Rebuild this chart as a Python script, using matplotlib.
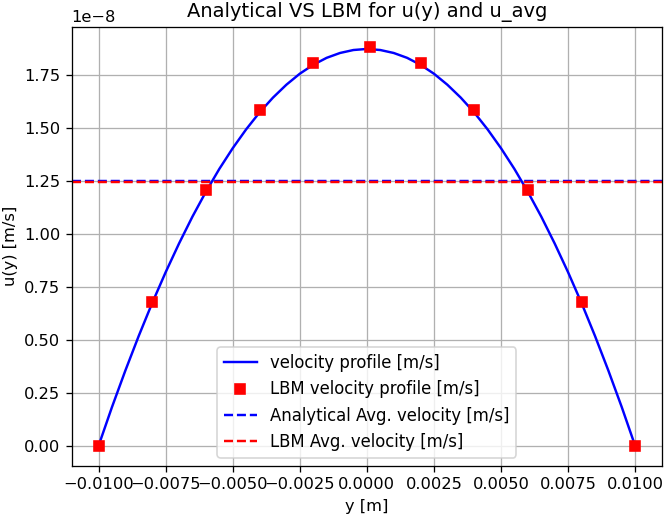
import numpy as np
import matplotlib.pyplot as plt

# analytical profile (u in m/s), every 0.0005 m
y_an = np.array([-0.0100, -0.0095, -0.0090, -0.0085, -0.0080, -0.0075, -0.0070, -0.0065,
                 -0.0060, -0.0055, -0.0050, -0.0045, -0.0040, -0.0035, -0.0030, -0.0025,
                 -0.0020, -0.0015, -0.0010, -0.0005, 0.0000, 0.0005, 0.0010, 0.0015,
                 0.0020, 0.0025, 0.0030, 0.0035, 0.0040, 0.0045, 0.0050, 0.0055,
                 0.0060, 0.0065, 0.0070, 0.0075, 0.0080, 0.0085, 0.0090, 0.0095, 0.0100])
u_an = np.array([0.0, 0.183, 0.356, 0.520, 0.675, 0.820, 0.956, 1.083,
                 1.200, 1.308, 1.406, 1.495, 1.575, 1.645, 1.706, 1.758,
                 1.800, 1.833, 1.856, 1.870, 1.875, 1.870, 1.856, 1.833,
                 1.800, 1.758, 1.706, 1.645, 1.575, 1.495, 1.406, 1.308,
                 1.200, 1.083, 0.956, 0.820, 0.675, 0.520, 0.356, 0.183, 0.0]) * 1e-8

# LBM nodes
y_lbm = np.array([-0.010, -0.008, -0.006, -0.004, -0.002, 0.0001, 0.002, 0.004, 0.006, 0.008, 0.010])
u_lbm = np.array([0.0, 0.680, 1.207, 1.585, 1.810, 1.885, 1.810, 1.585, 1.207, 0.680, 0.0]) * 1e-8

u_avg_an = 1.250e-8
u_avg_lbm = 1.247e-8

fig = plt.figure(figsize=(664 / 117, 517 / 117), dpi=117)
ax = fig.add_axes([0.108, 0.099, 0.889, 0.849])

ax.plot(y_an, u_an, color='blue', label='velocity profile [m/s]')
ax.plot(y_lbm, u_lbm, 's', color='red', markersize=6.3, label='LBM velocity profile [m/s]')
ax.axhline(u_avg_an, color='blue', linestyle='--', label='Analytical Avg. velocity [m/s]')
ax.axhline(u_avg_lbm, color='red', linestyle='--', label='LBM Avg. velocity [m/s]')

ax.set_title('Analytical VS LBM for u(y) and u_avg')
ax.set_xlabel('y [m]')
ax.set_ylabel('u(y) [m/s]')
ax.grid(True)
ax.legend(loc='lower center', fontsize=10.2)

fig.savefig('out.png', dpi=117)
